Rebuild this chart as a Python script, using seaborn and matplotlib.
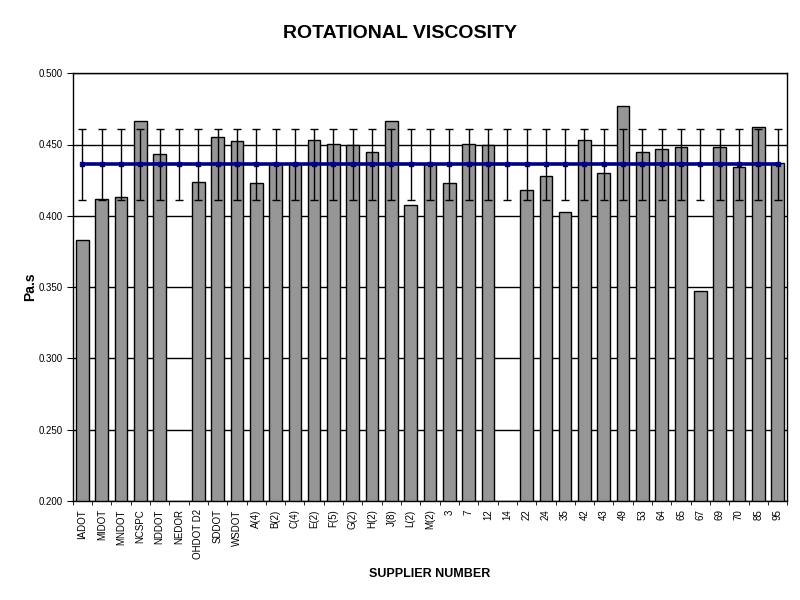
import matplotlib
matplotlib.use("Agg")
import matplotlib.pyplot as plt
import seaborn as sns
import numpy as np
import pandas as pd

suppliers = ["IADOT", "MIDOT", "MNDOT", "NCSPC", "NDDOT", "NEDOR", "OHDOT D2", "SDDOT", "WSDOT",
             "A(4)", "B(2)", "C(4)", "E(2)", "F(5)", "G(2)", "H(2)", "J(8)", "L(2)", "M(2)",
             "3", "7", "12", "14", "22", "24", "35", "42", "43", "49", "53", "64", "65", "67",
             "69", "70", "85", "95"]
viscosity = [0.383, 0.4115, 0.413, 0.4668, 0.443, np.nan, 0.424, 0.455, 0.4528,
             0.4227, 0.436, 0.436, 0.4535, 0.4507, 0.450, 0.445, 0.4668, 0.4073, 0.436,
             0.4227, 0.4507, 0.450, np.nan, 0.4178, 0.4276, 0.403, 0.4535, 0.4297, 0.4767,
             0.445, 0.4465, 0.448, 0.347, 0.448, 0.434, 0.4626, 0.4367]
grand_mean = 0.436
tolerance = 0.025
y_ticks = [0.200, 0.250, 0.300, 0.350, 0.400, 0.450, 0.500]

sns.set_style("white")
plt.rcParams['font.family'] = ['Liberation Sans', 'DejaVu Sans']
for k in ["text.color", "axes.labelcolor", "xtick.color", "ytick.color"]:
    plt.rcParams[k] = "black"

df = pd.DataFrame({"supplier": suppliers, "value": viscosity})

fig = plt.figure(figsize=(8, 6), dpi=100)
ax = fig.add_axes([0.091, 0.165, 0.893, 0.713])

for t in y_ticks:
    ax.axhline(t, color="black", lw=1, zorder=0)

sns.barplot(data=df, x="supplier", y="value", order=suppliers, color="#969696",
            edgecolor="black", linewidth=1, width=0.65, saturation=1, ax=ax, zorder=2)

xpos = np.arange(len(suppliers))
means = [grand_mean] * len(suppliers)
ax.errorbar(xpos, means, yerr=tolerance, fmt="none", ecolor="black", elinewidth=1,
            capsize=2.6, capthick=1, zorder=3)
ax.plot(xpos, means, color="#000080", lw=2.6, marker="s", markersize=3.5, zorder=4)

ax.set_ylim(0.200, 0.500)
ax.set_xlim(-0.5, len(suppliers) - 0.5)
ax.set_yticks(y_ticks)
ax.set_yticklabels([f"{t:.3f}" for t in y_ticks], fontsize=7)
ax.set_xticks(xpos)
ax.set_xticklabels(suppliers, rotation=90, fontsize=7)
ax.set_xticks(np.arange(-0.5, len(suppliers), 1), minor=True)
ax.tick_params(axis="x", which="major", length=0, pad=6)
ax.tick_params(axis="x", which="minor", length=3, direction="out", color="black", bottom=True)
ax.tick_params(axis="y", length=4, direction="out", color="black", left=True)

for s in ax.spines.values():
    s.set_color("black")
    s.set_linewidth(1)

ax.set_xlabel("SUPPLIER NUMBER", fontsize=9, fontweight="bold", labelpad=6)
ax.set_ylabel("Pa.s", fontsize=10, fontweight="bold", labelpad=0)
ax.yaxis.set_label_coords(-0.050, 0.5)
fig.suptitle("ROTATIONAL VISCOSITY", fontsize=14, fontweight="bold", y=0.958)

fig.savefig("out.png", dpi=100)
